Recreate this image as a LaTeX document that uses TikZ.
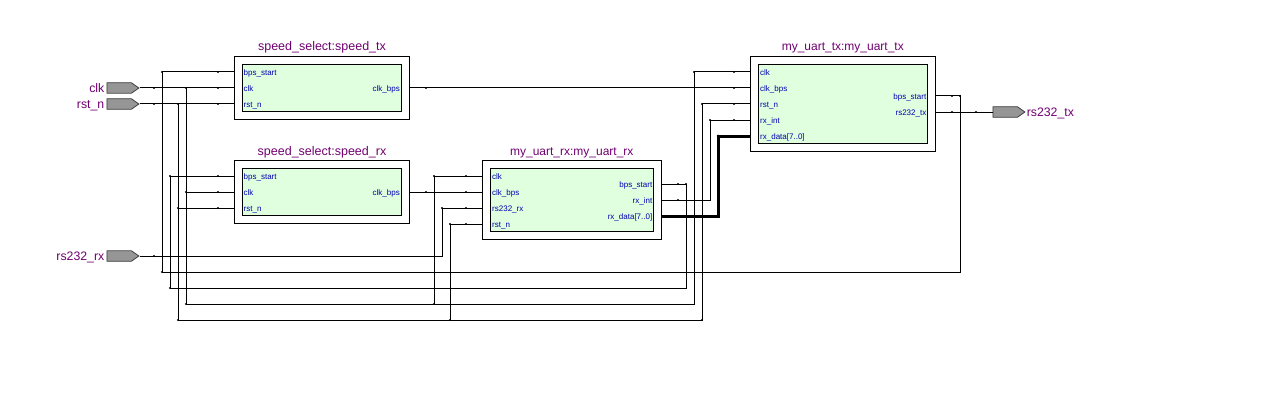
\documentclass[tikz,border=0pt]{standalone}
\usepackage{fontspec}
\setmainfont{Liberation Sans}
\usetikzlibrary{shapes.symbols, positioning}
\definecolor{pinGray}{HTML}{969696}
\definecolor{blockGreen}{HTML}{DFFFDF}
\definecolor{titlePurple}{HTML}{700070}
\definecolor{portBlue}{HTML}{0000B0}
\tikzset{%
% Specifications for style of nodes:
outerBox/.style = {draw, fill=white, line width=1pt, inner sep=0pt},
innerBox/.style = {draw, fill=blockGreen, line width=1pt, inner sep=0pt},
blockTitle/.style = {text=titlePurple, font=\fontsize{12.5}{14}\selectfont, inner sep=0pt, text height=10pt, text depth=1pt},
uartTitle/.style = {blockTitle, font=\fontsize{12}{14}\selectfont},
portIn/.style = {text=portBlue, font=\fontsize{8}{9}\selectfont, inner sep=0pt, text height=8pt, text depth=1pt, anchor=west},
portOut/.style = {portIn, anchor=east},
pinBase/.style = {draw=black!75, fill=pinGray, line width=0.8pt, signal, signal to=east, signal from=nowhere, signal pointer angle=70, minimum width=32pt, minimum height=10.5pt, inner sep=0pt, anchor=west},
pinLabel/.style = {blockTitle, font=\fontsize{12.3}{14}\selectfont},
wire/.style = {line width=1pt},
busWire/.style = {line width=3pt},
}

\begin{document}
\begin{tikzpicture}[x=1pt, y=-1pt]
        \useasboundingbox (0,0) rectangle (1270,420);
        % Specification of blocks (position, etc.)
        \node (speedTx) [outerBox, minimum width=175pt, minimum height=62.5pt, anchor=north west] at (234,56.2) {};
        \node (speedRx) [outerBox, minimum width=175pt, minimum height=62.5pt, below=40.5pt of speedTx] {};
        \node (uartRx) [outerBox, minimum width=179pt, minimum height=78.5pt, right=71.8pt of speedRx.north east, anchor=north west] {};
        \node (uartTx) [outerBox, minimum width=185pt, minimum height=94.5pt, right=339.8pt of speedTx.north east, anchor=north west] {};

        \node (speedTxCore) [innerBox, minimum width=159pt, minimum height=47pt] at (speedTx) {};
        \node (speedRxCore) [innerBox, minimum width=159pt, minimum height=47pt] at (speedRx) {};
        \node (uartRxCore) [innerBox, minimum width=163pt, minimum height=63pt] at (uartRx) {};
        \node (uartTxCore) [innerBox, minimum width=169pt, minimum height=79pt] at (uartTx) {};

        \node (speedTxTitle) [blockTitle, above=4pt of speedTx] {speed\_select:speed\_tx};
        \node (speedRxTitle) [blockTitle, above=4pt of speedRx] {speed\_select:speed\_rx};
        \node (uartRxTitle) [uartTitle, above=4pt of uartRx] {my\_uart\_rx:my\_uart\_rx};
        \node (uartTxTitle) [uartTitle, above=4pt of uartTx] {my\_uart\_tx:my\_uart\_tx};

        % Ports
        \node (speedTxBps) [portIn] at (243.5,72) {bps\_start};
        \node (speedTxClk) [portIn] at (243.5,88) {clk};
        \node (speedTxRst) [portIn] at (243.5,104) {rst\_n};
        \node (speedTxOut) [portOut] at (400,88) {clk\_bps};
        \node (speedRxBps) [portIn] at (243.5,176) {bps\_start};
        \node (speedRxClk) [portIn] at (243.5,192) {clk};
        \node (speedRxRst) [portIn] at (243.5,208) {rst\_n};
        \node (speedRxOut) [portOut] at (400,192) {clk\_bps};
        \node (uartRxClk) [portIn] at (492,176) {clk};
        \node (uartRxBaud) [portIn] at (492,192) {clk\_bps};
        \node (uartRxSerial) [portIn] at (492,208) {rs232\_rx};
        \node (uartRxRst) [portIn] at (492,224) {rst\_n};
        \node (uartRxBps) [portOut] at (652.5,184) {bps\_start};
        \node (uartRxInt) [portOut] at (652.5,200) {rx\_int};
        \node (uartRxData) [portOut] at (652.5,216) {rx\_data[7..0]};
        \node (uartTxClk) [portIn] at (760,72) {clk};
        \node (uartTxBaud) [portIn] at (760,88) {clk\_bps};
        \node (uartTxRst) [portIn] at (760,104) {rst\_n};
        \node (uartTxInt) [portIn] at (760,120) {rx\_int};
        \node (uartTxData) [portIn] at (760,136) {rx\_data[7..0]};
        \node (uartTxBps) [portOut] at (926.5,96) {bps\_start};
        \node (uartTxSerial) [portOut] at (926.5,112) {rs232\_tx};

        % Pins
        \node (pinClk) [pinBase] at (106.5,88) {};
        \node (pinRst) [pinBase] at (106.5,104) {};
        \node (pinRx) [pinBase] at (106.5,256) {};
        \node (pinTx) [pinBase] at (992.5,112) {};
        \node (pinClkText) [pinLabel, left=2pt of pinClk] {clk};
        \node (pinRstText) [pinLabel, left=2pt of pinRst] {rst\_n};
        \node (pinRxText) [pinLabel, left=2pt of pinRx] {rs232\_rx};
        \node (pinTxText) [pinLabel, right=1pt of pinTx] {rs232\_tx};

        % Turning points of the long wires
        \coordinate (trunkBpsTx) at (162,272);
        \coordinate (trunkBpsRx) at (170,288);
        \coordinate (trunkRst) at (178,320);
        \coordinate (trunkClk) at (186,304);
        \coordinate (turnBpsTx) at (960,272);
        \coordinate (turnBpsRx) at (686,288);
        \coordinate (turnClk) at (694,304);
        \coordinate (turnRst) at (702,320);
        \coordinate (turnSerial) at (442,256);
        \coordinate (dropClk) at (434,304);
        \coordinate (dropRst) at (450,320);
        \coordinate (turnInt) at (710,200);
        \coordinate (turnData) at (718,216);

        % Wires
        \draw [wire] (pinClk.east) -- (speedTxClk -| speedTx.west);
        \draw [wire] (pinRst.east) -- (speedTxRst -| speedTx.west);
        \draw [wire] (speedTxBps -| speedTx.west) -| (trunkBpsTx) -- (turnBpsTx) |- (uartTxBps -| uartTx.east);
        \draw [wire] (speedRxBps -| speedRx.west) -| (trunkBpsRx) -- (turnBpsRx) |- (uartRxBps -| uartRx.east);
        \draw [wire] (trunkClk |- pinClk.east) -- (trunkClk) -- (turnClk) |- (uartTxClk -| uartTx.west);
        \draw [wire] (trunkRst |- pinRst.east) -- (trunkRst) -- (turnRst) |- (uartTxRst -| uartTx.west);
        \draw [wire] (speedRxClk -| speedRx.west) -- (trunkClk |- speedRxClk);
        \draw [wire] (speedRxRst -| speedRx.west) -- (trunkRst |- speedRxRst);
        \draw [wire] (speedTxOut -| speedTx.east) -- (uartTxBaud -| uartTx.west);
        \draw [wire] (speedRxOut -| speedRx.east) -- (uartRxBaud -| uartRx.west);
        \draw [wire] (pinRx.east) -- (turnSerial) |- (uartRxSerial -| uartRx.west);
        \draw [wire] (uartRxClk -| uartRx.west) -| (dropClk);
        \draw [wire] (uartRxRst -| uartRx.west) -| (dropRst);
        \draw [wire] (uartRxInt -| uartRx.east) -- (turnInt) |- (uartTxInt -| uartTx.west);
        \draw [busWire] (uartRxData -| uartRx.east) -- (turnData) |- (uartTxData -| uartTx.west);
        \draw [wire] (uartTxSerial -| uartTx.east) -- (pinTx.west);

        % Small marks on the wires
        \fill (154,88) circle (1.2) (154,104) circle (1.2) (154,256) circle (1.2);
        \fill (218,72) circle (1.2) (218,88) circle (1.2) (218,104) circle (1.2);
        \fill (218,176) circle (1.2) (218,192) circle (1.2) (218,208) circle (1.2);
        \fill (162,72) circle (1.2) (186,88) circle (1.2) (178,104) circle (1.2);
        \fill (170,176) circle (1.2) (186,192) circle (1.2) (178,208) circle (1.2);
        \fill (trunkBpsTx) circle (1.2) (trunkBpsRx) circle (1.2) (trunkClk) circle (1.2) (trunkRst) circle (1.2);
        \fill (426,88) circle (1.2) (426,192) circle (1.2);
        \fill (466,176) circle (1.2) (466,192) circle (1.2) (466,208) circle (1.2) (466,224) circle (1.2);
        \fill (434,176) circle (1.2) (442,208) circle (1.2) (450,224) circle (1.2);
        \fill (dropClk) circle (1.2) (dropRst) circle (1.2);
        \fill (678,184) circle (1.2) (678,200) circle (1.2) (678,216) circle (1.2) (686,184) circle (1.2);
        \fill (turnRst) circle (1.2);
        \fill (734,72) circle (1.2) (734,88) circle (1.2) (734,104) circle (1.2) (734,120) circle (1.2) (734,136) circle (1.2);
        \fill (694,72) circle (1.2) (702,104) circle (1.2) (710,120) circle (1.2) (718,136) circle (1.5);
        \fill (952,96) circle (1.2) (952,112) circle (1.2) (960,96) circle (1.2) (976,112) circle (1.2);
    \end{tikzpicture}
\end{document}
